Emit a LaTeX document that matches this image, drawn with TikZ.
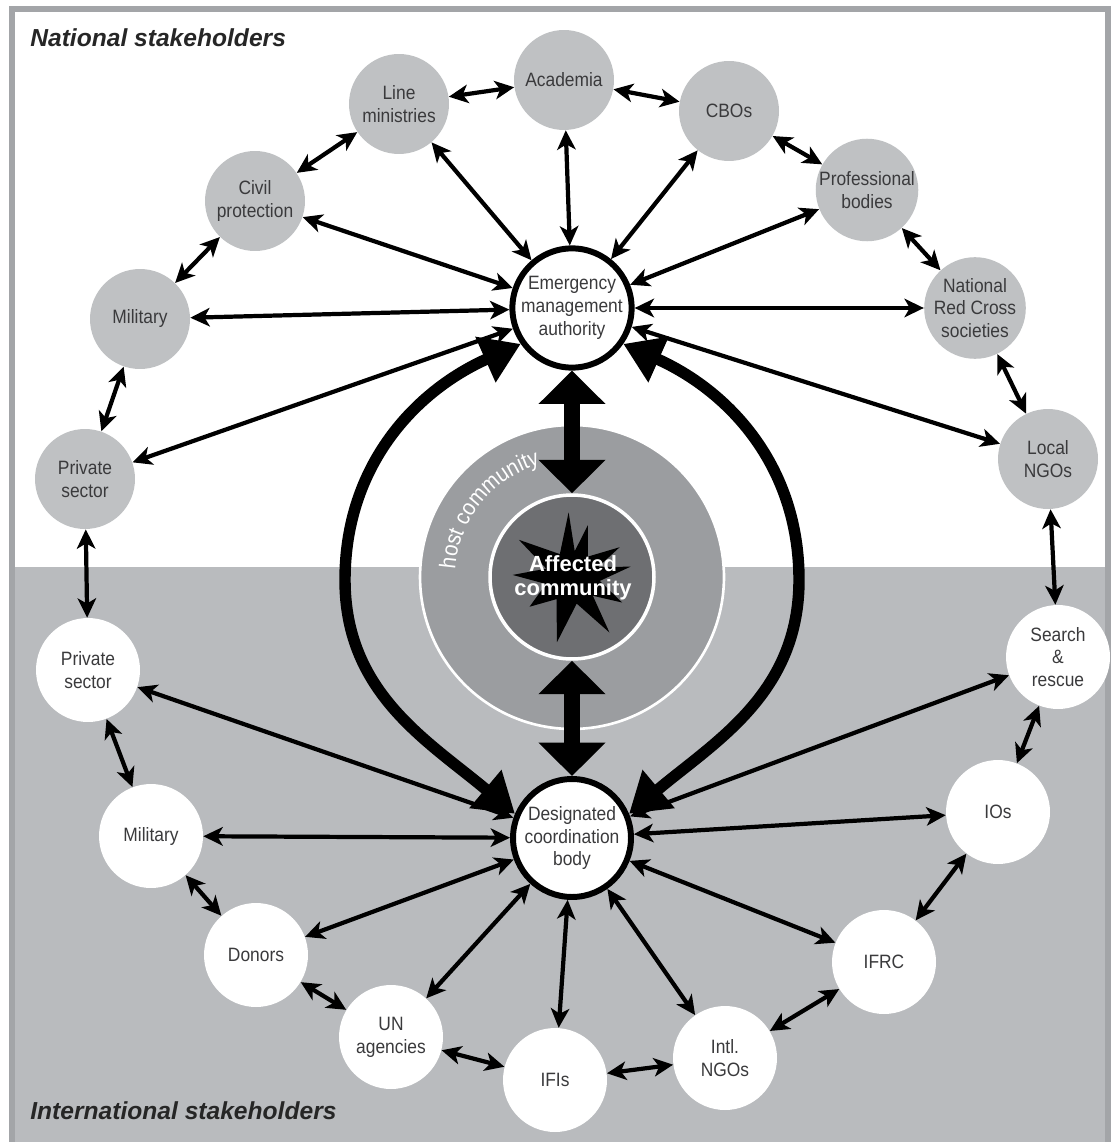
\documentclass[tikz,border=0pt]{standalone}
\usepackage{fontspec}
\setmainfont{Liberation Sans}
\newfontfamily\nodefont{Liberation Sans}[FakeStretch=0.9]
\usetikzlibrary{arrows.meta,decorations.text}

\definecolor{natgray}{HTML}{BFC1C3}
\definecolor{intlbg}{HTML}{B9BBBE}
\definecolor{hostgray}{HTML}{9B9DA0}
\definecolor{innergray}{HTML}{6E6F72}
\definecolor{framegray}{HTML}{A3A5A8}
\definecolor{txtgray}{HTML}{3A3A3C}

\newcommand\hcfont{\nodefont\fontsize{13}{15}\selectfont\color{white}}

\begin{document}
\begin{tikzpicture}[x=0.02cm,y=0.02cm,
  stake/.style={circle, inner sep=0pt, align=center, font=\nodefont\fontsize{11}{13}\selectfont, text=txtgray},
  natnode/.style={stake, fill=natgray, minimum size=2cm},
  intnode/.style={stake, fill=white, minimum size=2.08cm},
  hub/.style={stake, fill=white, draw=black, line width=3.4pt, minimum size=2.36cm},
  chainarrow/.style={line width=2.4pt, >={Stealth[length=11pt,width=10.5pt,inset=3pt]}, <->},
  bigarc/.style={line width=6.5pt, >={Triangle[length=22pt,width=27pt]}, <->},
  bigarrow/.style={line width=9.5pt, >={Triangle[length=19pt,width=37pt]}, <->},
  sectitle/.style={anchor=base west, inner sep=0pt, font=\fontsize{14}{16}\selectfont\bfseries\itshape, text=black!85}
]
% background and frame
\useasboundingbox (0,0) rectangle (1111,-1142);
\fill[white] (0,0) rectangle (1111,-1142);
\fill[intlbg] (12,-567) rectangle (1111,-1142);
\draw[framegray, line width=3.5pt] (12,-1150) -- (12,-9) -- (1108,-9) -- (1108,-1150);

% titles
\node[sectitle] (natt) at (30,-47) {National stakeholders};
\node[sectitle] (intt) at (30,-1119) {International stakeholders};

% host and affected community
\node[circle, fill=hostgray, draw=white, line width=1.5pt, minimum size=6.08cm, inner sep=0pt] (host) at (572,-577) {};
\node[circle, fill=innergray, draw=white, line width=2pt, minimum size=3.28cm, inner sep=0pt] (core) at (572,-577) {};
\begin{scope}[shift={(572,-577)}, scale=1.08]
\fill[black] (93:60) -- (84:24) -- (73:50) -- (52:24) -- (32:52) -- (21:26) -- (10:55) -- (-8:26) -- (-27:52) -- (-42:26) -- (-56:62) -- (-80:25) -- (-103:62) -- (-125:25) -- (-145:48) -- (-165:25) -- (178:55) -- (162:25) -- (145:60) -- (118:24) -- cycle;
\end{scope}
\node[font=\bfseries\fontsize{12.5}{14}\selectfont, text=white, align=center, inner sep=0pt] (aff) at (573,-578) {Affected\\community};
\path[decorate, decoration={text along path, text align=center, text={|\hcfont|host community}}]
  (455,-577) arc[start angle=180, end angle=102, radius=117];

% hubs
\node[hub] (ema) at (572,-308) {Emergency\\management\\authority};
\node[hub] (dcb) at (572,-838) {Designated\\coordination\\body};

% national stakeholders
\node[natnode] (acad) at (564,-80) {Academia};
\node[natnode] (line) at (399,-104) {Line\\ministries};
\node[natnode] (cbo) at (729,-111) {CBOs};
\node[natnode] (civil) at (255,-201) {Civil\\protection};
\node[natnode] (prof) at (867,-190) {Professional\\bodies};
\node[natnode] (milN) at (140,-319) {Military};
\node[natnode] (nrc) at (975,-308) {National\\Red Cross\\societies};
\node[natnode] (privN) at (85,-479) {Private\\sector};
\node[natnode] (lngo) at (1048,-459) {Local\\NGOs};

% international stakeholders
\node[intnode] (privI) at (88,-670) {Private\\sector};
\node[intnode] (sar) at (1058,-657) {Search\\\&\\rescue};
\node[intnode] (milI) at (151,-836) {Military};
\node[intnode] (ios) at (998,-812) {IOs};
\node[intnode] (don) at (256,-955) {Donors};
\node[intnode] (ifrc) at (884,-962) {IFRC};
\node[intnode] (un) at (391,-1037) {UN\\agencies};
\node[intnode] (ifi) at (555,-1080) {IFIs};
\node[intnode] (ingo) at (725,-1058) {Intl.\\NGOs};

% big arcs
\coordinate (lft) at (345,-580);
\coordinate (rgt) at (799,-580);
\draw[bigarc] (ema.215) to[out=204,in=90] (lft) to[out=270,in=140] (dcb.157);
\draw[bigarc] (ema.325) to[out=-24,in=90] (rgt) to[out=270,in=40] (dcb.23);

% central thick arrows
\draw[bigarrow] (ema) -- (core);
\draw[bigarrow] (core) -- (dcb);

% spokes
\foreach \n in {line,acad,cbo,civil,prof,milN,nrc,privN,lngo} \draw[chainarrow] (ema) -- (\n);
\foreach \n in {privI,milI,don,un,ifi,ingo,ifrc,ios,sar} \draw[chainarrow] (dcb) -- (\n);

% ring of neighbours
\foreach \a/\b in {privN/milN, milN/civil, civil/line, line/acad, acad/cbo, cbo/prof, prof/nrc, nrc/lngo, lngo/sar, sar/ios, ios/ifrc, ifrc/ingo, ingo/ifi, ifi/un, un/don, don/milI, milI/privI, privI/privN}
  \draw[chainarrow] (\a) -- (\b);
\end{tikzpicture}
\end{document}
